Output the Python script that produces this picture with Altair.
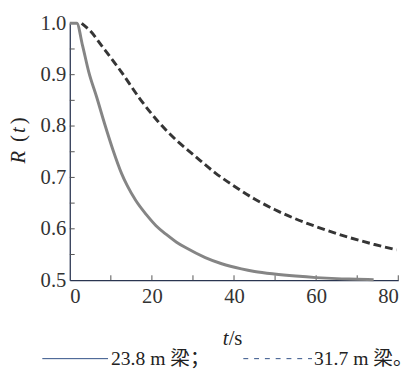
import altair as alt
import pandas as pd

# ---- data ----
t_solid = [0, 1.7, 3.1, 4.6, 6.6, 8.5, 10.5, 12.6, 14, 16, 18.7, 21, 23.5, 26, 28.3,
           33, 37, 41.8, 45, 49.8, 55, 60, 65, 70, 74]
r_solid = [1.0, 1.0, 0.957, 0.906, 0.855, 0.804, 0.754, 0.708, 0.684, 0.656, 0.627,
           0.606, 0.589, 0.574, 0.563, 0.544, 0.532, 0.522, 0.517, 0.512, 0.508,
           0.505, 0.503, 0.502, 0.501]
t_dash = [2.9, 5, 7.7, 12.5, 16.9, 21.6, 26, 30, 35.4, 41, 45, 50, 54.5, 60.1, 68.1, 74, 79.6]
r_dash = [1.0, 0.985, 0.957, 0.906, 0.855, 0.808, 0.772, 0.745, 0.709, 0.678, 0.658,
          0.637, 0.621, 0.604, 0.583, 0.570, 0.559]

x_labels = [0, 20, 40, 60, 80]
y_labels = [0.5, 0.6, 0.7, 0.8, 0.9, 1.0]
x_ticks = [10, 20, 30, 40, 50, 60, 70, 80]
y_ticks = [0.55, 0.6, 0.65, 0.7, 0.75, 0.8, 0.85, 0.9, 0.95, 1.0]
legend_labels = ["23.8 m 梁；", "31.7 m 梁。"]

W, H = 335, 262
SERIF = "Liberation Serif"
SERIF_CJK = "Liberation Serif, Noto Sans CJK SC"
AXIS_COL = "#2a3550"

xs = alt.Scale(domain=[0, 80], nice=False, zero=False)
ys = alt.Scale(domain=[0.5, 1.0], nice=False, zero=False)

x_axis = alt.Axis(values=x_labels, ticks=False, grid=False, domainColor=AXIS_COL,
                  domainWidth=1.3, labelFont=SERIF, labelFontSize=21, labelColor="#333",
                  labelPadding=6, title=None)
y_axis = alt.Axis(values=y_labels, format=".1f", ticks=False, grid=False, domainColor=AXIS_COL,
                  domainWidth=1.3, labelFont=SERIF, labelFontSize=21, labelColor="#333",
                  labelPadding=4, title=None)

df_s = pd.DataFrame({"t": t_solid, "R": r_solid})
df_d = pd.DataFrame({"t": t_dash, "R": r_dash})

solid = alt.Chart(df_s).mark_line(color="#858585", strokeWidth=3, interpolate="monotone").encode(
    x=alt.X("t:Q", scale=xs, axis=x_axis),
    y=alt.Y("R:Q", scale=ys, axis=y_axis),
)
dashed = alt.Chart(df_d).mark_line(color="#353535", strokeWidth=3, strokeDash=[8, 4],
                                   interpolate="monotone").encode(
    x=alt.X("t:Q", scale=xs),
    y=alt.Y("R:Q", scale=ys),
)

xt = alt.Chart(pd.DataFrame({"t": x_ticks})).mark_rule(color="#555", strokeWidth=1).encode(
    x=alt.X("t:Q", scale=xs), y=alt.value(H), y2=alt.value(H - 5))
yt = alt.Chart(pd.DataFrame({"R": y_ticks})).mark_rule(color="#555", strokeWidth=1).encode(
    y=alt.Y("R:Q", scale=ys), x=alt.value(0), x2=alt.value(5))

one = pd.DataFrame({"a": [0]})

def txt(s, x, y, italic=False, angle=0, align="left", baseline="alphabetic", size=21, font=SERIF):
    return alt.Chart(one).mark_text(
        text=s, font=font, fontSize=size, fontStyle="italic" if italic else "normal",
        angle=angle, align=align, baseline=baseline, color="#222"
    ).encode(x=alt.value(x), y=alt.value(y))

# axis titles
titles = [
    txt("t", 156, 328, italic=True),
    txt("/s", 162, 328),
    txt("R", -46, 143, italic=True, angle=270),
    txt("(", -46, 121, angle=270),
    txt("t", -46, 112, italic=True, angle=270),
    txt(")", -46, 103, angle=270),
]

# legend
leg_solid = alt.Chart(one).mark_rule(color="#2f4f86", strokeWidth=1).encode(
    x=alt.value(-28), x2=alt.value(39), y=alt.value(342))
leg_dash = alt.Chart(one).mark_rule(color="#2f4f86", strokeWidth=1, strokeDash=[5, 6]).encode(
    x=alt.value(177), x2=alt.value(247), y=alt.value(342))
leg_t1 = txt(legend_labels[0], 42, 348, size=20, font=SERIF_CJK)
leg_t2 = txt(legend_labels[1], 249, 348, size=20, font=SERIF_CJK)

chart = alt.layer(
    xt, yt, solid, dashed, *titles, leg_solid, leg_dash, leg_t1, leg_t2
).properties(
    width=W, height=H,
    autosize=alt.AutoSizeParams(type="none"),
    padding={"left": 63, "top": 12, "right": 14, "bottom": 88},
).configure_view(stroke=None)

chart.save("out.html", embed_options={"renderer": "svg", "actions": False})
